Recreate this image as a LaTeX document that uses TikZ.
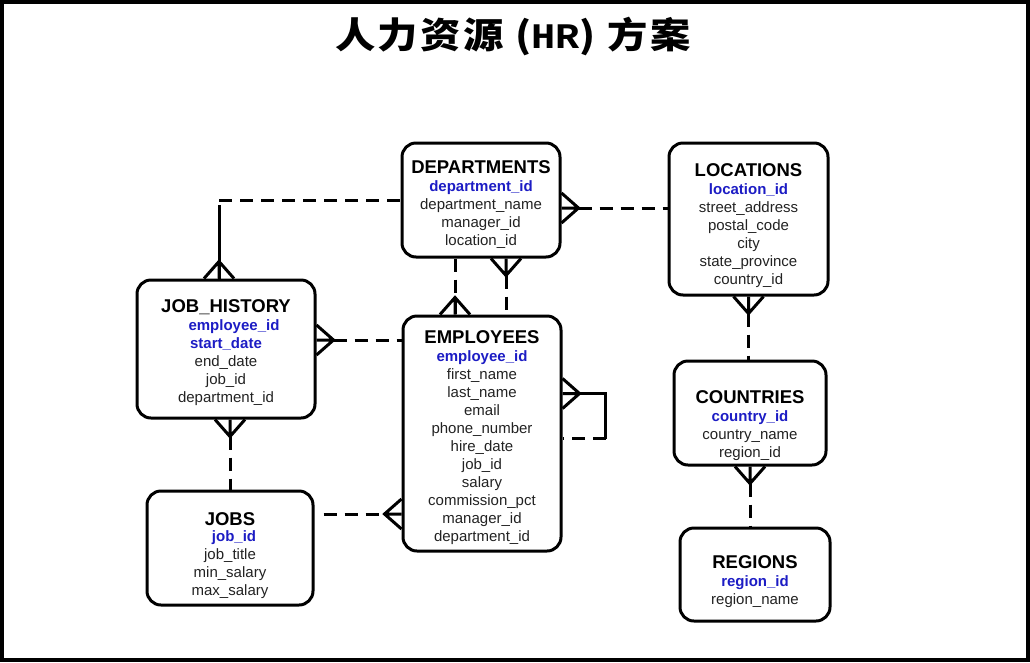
\documentclass[tikz,border=0pt]{standalone}
\usepackage{fontspec}
\setmainfont{Liberation Sans}
\newfontfamily\cjkfont{Noto Sans CJK SC}[LetterSpace=6]
\newfontfamily\hrfont{Liberation Mono}
\usepackage{tikz}
\usetikzlibrary{positioning}
\usepackage{xcolor}
\definecolor{keyblue}{RGB}{28,28,196}
\definecolor{fieldgray}{RGB}{34,34,34}

\newcommand\tname[2][0pt]{{\color{black}\bfseries\fontsize{18.5}{20}\selectfont\rule{0pt}{\dimexpr16.7pt+#1*2\relax}#2}}
\newcommand\pk[1]{{\color{keyblue}\bfseries #1}}

\tikzset{
  entity/.style={draw, line width=3pt, rounded corners=14pt, align=center, inner sep=0pt,
    font=\fontsize{15}{18}\selectfont, text=fieldgray},
  link/.style={line width=3pt, dash pattern=on 13pt off 8pt},
  solidlink/.style={line width=3pt},
  crow/.pic={\draw[line width=3pt] (0,-15) -- (17,0) -- (0,15) (0,0) -- (17,0);}
}

\begin{document}
\begin{tikzpicture}[x=1pt, y=-1pt]
  \useasboundingbox (0,0) rectangle (1030,662);
  \draw[line width=4pt] (2,2) rectangle (1028,660);

  \node[xscale=1.12, transform shape] (title) at (513,36) {\cjkfont\bfseries\fontsize{36}{40}\selectfont 人力资源 ({\hrfont\bfseries HR}) 方案};

  \node[entity, minimum width=158, minimum height=114] (dep) at (481,200)
    {\tname[3pt]{DEPARTMENTS}\\ \pk{department\_id}\\ department\_name\\ manager\_id\\ location\_id};
  \node[entity, minimum width=159, minimum height=152] (loc) at (748.5,219)
    {\tname[5pt]{LOCATIONS}\\ \pk{location\_id}\\ street\_address\\ postal\_code\\ city\\ state\_province\\ country\_id};
  \node[entity, minimum width=178, minimum height=138] (jh) at (226,349)
    {\tname[2pt]{JOB\_HISTORY}\\ \hspace*{16pt}\pk{employee\_id}\\ \pk{start\_date}\\ end\_date\\ job\_id\\ department\_id};
  \node[entity, minimum width=158, minimum height=235] (emp) at (482,433.5)
    {\tname[2.5pt]{EMPLOYEES}\\ \pk{employee\_id}\\ first\_name\\ last\_name\\ email\\ phone\_number\\ hire\_date\\ job\_id\\ salary\\ commission\_pct\\ manager\_id\\ department\_id};
  \node[entity, minimum width=152, minimum height=104] (cou) at (750,413)
    {\tname[11pt]{COUNTRIES}\\ \pk{country\_id}\\ country\_name\\ region\_id};
  \node[entity, minimum width=166, minimum height=114] (jobs) at (230,548)
    {\tname[6pt]{JOBS}\\[-2pt] \hspace*{8pt}\pk{job\_id}\\ job\_title\\ min\_salary\\ max\_salary};
  \node[entity, minimum width=150, minimum height=93] (reg) at (755,574.5)
    {\tname[5pt]{REGIONS}\\ \pk{region\_id}\\ region\_name};

  \coordinate (jhbend) at (219,200);
  \draw[link] (jhbend) -- (jhbend -| dep.west);
  \draw[solidlink] (jh.north -| jhbend) -- ++(0,-74);
  \pic[rotate=90] at (jh.north -| jhbend) {crow};

  \coordinate (deploc) at ([yshift=-8pt]dep.east);
  \pic at (deploc) {crow};
  \draw[link] ([xshift=17pt]deploc) -- (deploc -| loc.west);

  \coordinate (depemp) at ([xshift=-26pt]dep.south);
  \draw[link] (depemp) -- (depemp |- emp.north);
  \pic[rotate=90] at (depemp |- emp.north) {crow};

  \coordinate (empdep) at ([xshift=25pt]dep.south);
  \pic[rotate=-90] at (empdep) {crow};
  \draw[link] ([yshift=-17pt]empdep) -- (empdep |- emp.north);

  \coordinate (jhemp) at ([yshift=9pt]jh.east);
  \pic at (jhemp) {crow};
  \draw[link] ([xshift=17pt]jhemp) -- (jhemp -| emp.west);

  \coordinate (jhjobs) at ([xshift=4pt]jh.south);
  \pic[rotate=-90] at (jhjobs) {crow};
  \draw[link] ([yshift=-17pt]jhjobs) -- (jhjobs |- jobs.north);

  \coordinate (jobsemp) at ([yshift=34pt]jobs.east);
  \draw[link] ([xshift=9pt]jobsemp) -- ([xshift=-17pt]jobsemp -| emp.west);
  \pic[rotate=180] at (jobsemp -| emp.west) {crow};

  \coordinate (selfa) at ([yshift=40pt]emp.east);
  \coordinate (selfb) at ([yshift=-5pt]emp.east);
  \pic at (selfa) {crow};
  \draw[solidlink] ([xshift=17pt]selfa) -| ([xshift=43pt]selfb);
  \draw[link] ([xshift=43pt]selfb) -- (selfb);

  \pic[rotate=-90] at (loc.south) {crow};
  \draw[link] ([yshift=-17pt]loc.south) -- (loc.south |- cou.north);

  \pic[rotate=-90] at (cou.south) {crow};
  \draw[link] ([yshift=-17pt]cou.south) -- (cou.south |- reg.north);
\end{tikzpicture}
\end{document}
